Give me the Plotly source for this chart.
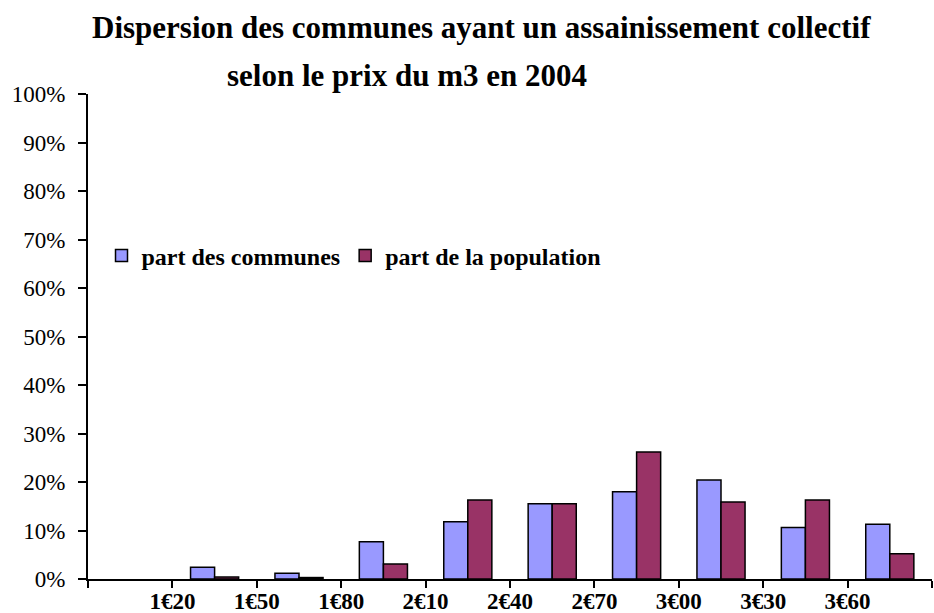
import plotly.graph_objects as go

# Price class boundaries (€ per m3) and tick labels
tick_prices = [1.20, 1.50, 1.80, 2.10, 2.40, 2.70, 3.00, 3.30, 3.60]
tick_labels = ["1€20", "1€50", "1€80", "2€10", "2€40", "2€70", "3€00", "3€30", "3€60"]
# Class midpoints (one class below 1€20, one above 3€60)
class_mid = [1.05, 1.35, 1.65, 1.95, 2.25, 2.55, 2.85, 3.15, 3.45, 3.75]

part_communes = [0.000, 0.024, 0.012, 0.077, 0.118, 0.155, 0.180, 0.204, 0.106, 0.113]
part_population = [0.000, 0.004, 0.003, 0.031, 0.163, 0.155, 0.262, 0.159, 0.163, 0.052]

series_names = ["part des communes", "part de la population"]
series_colors = ["#9999FF", "#993366"]

FONT = "Liberation Serif"

fig = go.Figure()
for name, vals, col in zip(series_names, [part_communes, part_population], series_colors):
    fig.add_trace(go.Bar(
        x=class_mid, y=[v if v > 0 else None for v in vals], name=name,
        marker=dict(color=col, line=dict(color="black", width=1.5)),
    ))

all_ticks = [0.90] + tick_prices + [3.90]

fig.update_layout(
    width=934, height=613,
    margin=dict(l=88, r=2, t=94, b=34, autoexpand=False),
    paper_bgcolor="white", plot_bgcolor="white",
    barmode="group", bargap=0.43, bargroupgap=0,
    font=dict(family=FONT, color="black", size=20),
    showlegend=True,
    legend=dict(
        orientation="h", x=0.016, y=0.666, xanchor="left", yanchor="middle",
        font=dict(family=FONT, size=24, weight="bold"),
        bgcolor="rgba(0,0,0,0)", itemwidth=30, traceorder="normal",
    ),
    xaxis=dict(
        range=[0.90, 3.90], tickmode="array", tickvals=tick_prices, ticktext=tick_labels,
        ticks="outside", ticklen=0, tickcolor="black", automargin=False,
        minor=dict(tickmode="array", tickvals=all_ticks, ticks="outside",
                   ticklen=7, tickwidth=2, tickcolor="black", showgrid=False),
        showline=True, linecolor="black", linewidth=2, showgrid=False, zeroline=False,
        tickfont=dict(family=FONT, size=23, weight="bold"),
    ),
    yaxis=dict(
        range=[0, 1], tickmode="array", tickvals=[i / 10 for i in range(11)],
        tickformat=".0%", ticks="outside", ticklen=8, tickwidth=2, tickcolor="black",
        showline=True, linecolor="black", linewidth=2, showgrid=False, zeroline=False,
        automargin=False, ticklabelstandoff=8,
        tickfont=dict(family=FONT, size=23),
    ),
    annotations=[
        dict(text="<b>Dispersion des communes ayant un assainissement collectif</b>",
             xref="paper", yref="paper", x=(481 - 88) / 844, y=(579 - 27) / 485,
             xanchor="center", yanchor="middle", showarrow=False,
             font=dict(family=FONT, size=31)),
        dict(text="<b>selon le prix du m3 en 2004</b>",
             xref="paper", yref="paper", x=(407 - 88) / 844, y=(579 - 76) / 485,
             xanchor="center", yanchor="middle", showarrow=False,
             font=dict(family=FONT, size=31)),
    ],
)

fig.write_html("out.html", config={"displayModeBar": False},
               post_script="document.body.style.margin='0';document.body.style.overflow='hidden';")
